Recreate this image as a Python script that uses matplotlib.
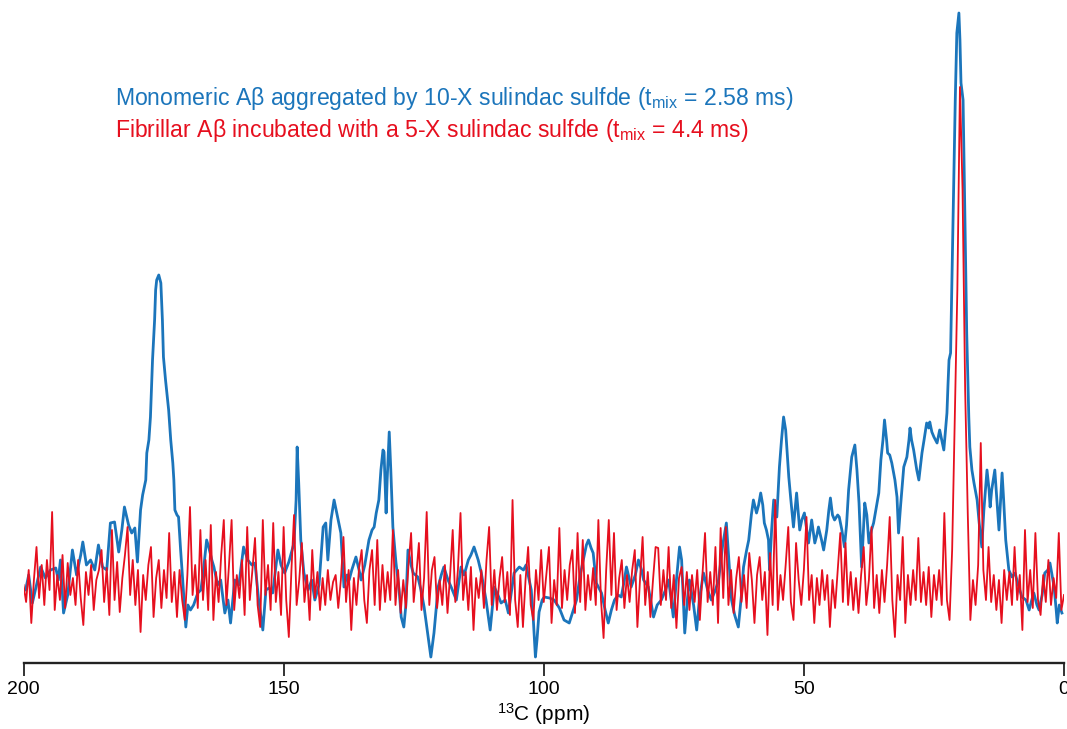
"""
13C 谱图：单体 Aβ 与纤维 Aβ 在 sulindac sulfide 作用下的对比
"""
import numpy as np
import matplotlib

matplotlib.use("Agg")
import matplotlib.pyplot as plt

plt.rcParams['font.family'] = ['Liberation Sans', 'DejaVu Sans']
plt.rcParams['mathtext.fontset'] = 'custom'
plt.rcParams['mathtext.rm'] = 'Liberation Sans'
plt.rcParams['mathtext.it'] = 'Liberation Sans:italic'

blue_color = '#1b75bb'
red_color = '#e60f1e'

# 单体 Aβ (t_mix = 2.58 ms)，化学位移 / 强度
blue_ppm = [
    199.6, 199.0, 198.3, 197.5, 196.7, 195.8, 194.8, 193.8, 193.3, 192.9,
    192.3, 191.5, 190.6, 189.8, 189.0, 188.6, 187.9, 187.1, 186.3, 185.6,
    184.8, 184.0, 183.3, 182.5, 181.7, 181.1, 180.6, 179.8, 179.2, 178.6,
    178.1, 177.5, 177.1, 176.9, 176.5, 176.3, 175.9, 175.6, 175.2, 174.8,
    174.6, 174.4, 174.0, 173.6, 173.3, 173.1, 172.7, 172.1, 171.7, 171.3,
    171.1, 170.9, 170.5, 170.2, 169.8, 169.4, 168.8, 168.4, 167.9, 167.3,
    166.5, 165.9, 165.4, 164.8, 164.4, 163.8, 163.4, 162.7, 162.1, 161.3,
    160.7, 160.2, 159.4, 158.6, 157.7, 156.9, 156.1, 155.5, 154.8, 154.0,
    153.4, 152.8, 152.1, 151.1, 150.5, 149.8, 149.0, 148.0, 147.6, 147.4,
    147.1, 146.7, 146.1, 145.3, 144.6, 144.0, 143.2, 142.4, 141.9, 141.5,
    140.9, 140.3, 139.9, 139.6, 139.0, 138.4, 137.8, 137.4, 136.9, 136.1,
    135.5, 135.1, 134.4, 133.6, 133.0, 132.6, 132.2, 131.9, 131.7, 131.3,
    130.9, 130.7, 130.3, 130.1, 129.7, 129.4, 129.0, 128.4, 127.8, 127.4,
    126.9, 126.5, 126.1, 125.5, 125.1, 124.2, 123.6, 123.0, 122.4, 121.7,
    121.1, 120.3, 119.7, 119.2, 118.4, 117.8, 116.8, 115.9, 115.3, 114.5,
    114.0, 113.4, 112.6, 112.0, 111.1, 110.3, 109.5, 108.8, 108.2, 107.4,
    106.8, 106.3, 105.7, 104.7, 103.9, 103.4, 102.8, 102.4, 102.0, 101.6,
    101.3, 100.9, 100.3, 99.9, 98.9, 98.0, 97.0, 96.1, 95.1, 94.3,
    93.7, 93.0, 92.4, 91.8, 91.4, 90.9, 90.5, 89.9, 88.9, 88.2,
    87.6, 87.0, 86.4, 85.7, 85.1, 84.5, 84.1, 83.5, 83.2, 82.4,
    81.8, 81.2, 80.8, 79.9, 79.3, 78.9, 78.2, 77.4, 76.6, 76.0,
    75.5, 75.1, 74.5, 73.9, 73.5, 72.9, 72.4, 72.0, 71.2, 70.6,
    70.1, 69.3, 68.5, 67.8, 67.0, 66.4, 65.6, 64.9, 64.3, 63.9,
    63.3, 62.6, 62.0, 61.6, 61.0, 60.6, 60.1, 59.7, 59.1, 58.7,
    58.3, 57.9, 57.6, 57.2, 56.8, 56.6, 56.2, 55.8, 55.2, 54.7,
    54.3, 53.9, 53.5, 52.9, 52.5, 52.0, 51.4, 50.8, 50.4, 49.9,
    49.1, 48.5, 47.9, 47.5, 47.2, 46.6, 46.2, 45.6, 45.2, 44.9,
    44.5, 44.1, 43.5, 43.2, 42.7, 42.2, 41.8, 41.4, 40.8, 40.2,
    39.8, 39.4, 38.9, 38.3, 37.9, 37.5, 37.0, 36.6, 36.0, 35.6,
    35.2, 34.8, 34.5, 34.1, 33.9, 33.5, 33.1, 32.5, 32.1, 31.8,
    31.4, 30.8, 30.2, 29.8, 29.6, 29.3, 28.9, 28.3, 27.9, 27.3,
    26.9, 26.4, 26.0, 25.8, 25.4, 25.0, 24.4, 23.9, 23.5, 23.1,
    22.5, 22.3, 22.1, 21.8, 21.5, 21.2, 20.9, 20.6, 20.2, 20.0,
    19.8, 19.4, 19.0, 18.7, 18.3, 18.1, 17.7, 17.3, 16.7, 16.3,
    15.8, 15.4, 14.8, 14.4, 14.2, 13.9, 13.3, 12.9, 12.5, 11.9,
    11.6, 11.2, 10.6, 10.0, 9.4, 8.8, 8.1, 7.3, 6.7, 6.2,
    5.8, 5.2, 4.8, 4.2, 3.7, 3.1, 2.7, 2.3, 1.9, 1.5,
    1.3, 0.9, 0.4,
]
blue_int = [
    0, 15, -13, 5, 23, 12, 20, 22, 10, 30,
    -23, -5, 40, 15, 35, 48, 25, 30, 20, 45,
    23, 20, 67, 68, 38, 60, 83, 65, 57, 62,
    28, 80, 95, 100, 110, 137, 150, 173, 230, 270,
    300, 310, 315, 307, 270, 233, 210, 180, 150, 127,
    110, 80, 75, 73, 40, 10, -37, -15, -20, -15,
    -3, 0, 20, 50, 43, 30, 23, 5, 10, -23,
    -10, -33, 10, 5, 43, 30, 25, 27, -10, -40,
    0, 2, -3, 40, 25, 17, 28, 47, 90, 143,
    107, 50, 17, 0, 10, -10, 5, 63, 67, 30,
    70, 90, 80, 73, 57, 3, 15, 10, 20, 33,
    20, 10, 25, 50, 60, 63, 77, 85, 90, 120,
    140, 138, 77, 110, 158, 120, 63, 27, 0, -27,
    -37, -15, 40, 25, 17, 13, 0, -17, -40, -67,
    -43, 3, 15, 23, 10, 3, -10, 23, 15, 30,
    35, 43, 30, 17, -10, -40, 3, -5, -13, -10,
    -23, -5, 17, 23, 20, 25, 10, 0, -30, -67,
    -50, -22, -10, -7, -8, -10, -18, -30, -33, -20,
    -10, 15, 30, 45, 50, 42, 37, 7, -3, -20,
    -33, -20, -10, -5, -7, 10, 23, 10, 3, 15,
    30, 20, 10, 3, -15, -27, -15, -10, 0, 10,
    -10, -27, 10, 43, 30, -43, -10, 10, -15, -40,
    -10, 17, 0, -10, 0, 10, 45, 67, 20, -10,
    -25, -37, -5, 23, 40, 50, 75, 90, 77, 85,
    97, 85, 67, 60, 50, 20, 60, 90, 73, 123,
    150, 173, 160, 113, 90, 63, 97, 60, 70, 77,
    47, 70, 47, 55, 63, 50, 40, 60, 80, 92,
    75, 70, 75, 73, 60, 43, 65, 100, 133, 145,
    120, 87, 23, 87, 75, 47, 60, 67, 85, 97,
    130, 150, 170, 150, 137, 135, 127, 110, 93, 57,
    85, 123, 133, 150, 162, 150, 140, 120, 110, 137,
    150, 167, 162, 168, 158, 153, 147, 160, 150, 140,
    177, 205, 230, 237, 323, 410, 490, 557, 577, 550,
    507, 490, 357, 257, 173, 143, 120, 107, 90, 67,
    43, 80, 120, 100, 83, 100, 120, 90, 60, 117,
    90, 50, 20, 13, 17, 5, -7, -10, -20, -10,
    -3, -15, -20, -5, 17, 20, 27, 15, 3, -20,
    -33, -15, -23,
]

# 纤维 Aβ (t_mix = 4.4 ms)，200 → 0 ppm，每 0.5 ppm 一个点
red_int = [
    5, -12, 20, -33, 10, 43, -8, 25, -15, 30, 0, 78, -20, 15, -10, 35, -18, 27, -5, 12,
    -15, 30, -8, -35, 18, -5, 25, -20, 10, 20, 40, -12, 22, -25, 60, -10, 28, -22, 12, 35,
    63, -5, 30, -15, 20, -42, 15, -10, 25, 43, -27, 12, 30, -18, 20, -8, 57, -12, 18, -27,
    20, -10, -30, 15, 83, -5, 25, -18, 60, -10, 30, -20, 65, -30, 18, -12, 35, 70, -15, 25,
    70, -20, 15, -8, 30, -25, 63, -10, 20, 52, -15, -37, 70, -5, 25, -20, 67, -12, 18, -25,
    63, -10, -47, 20, 75, -15, 10, 47, -12, 15, -30, 40, -8, 18, -20, 12, -15, 20, -10, 8,
    15, -18, 10, 53, -12, 20, -40, 12, -15, 22, 40, -10, -33, 20, 40, -15, 50, -20, 25, -12,
    18, -10, 60, -15, 20, -23, 10, -18, 25, 57, -12, 15, 47, -20, 12, 78, -15, 20, 33, -18,
    10, -15, 25, -23, 15, 60, -12, 20, 77, -10, 18, -20, 23, -40, 12, -8, 20, -18, 30, 63,
    -15, 20, -20, 12, 33, -12, 18, -25, 90, -10, -37, 15, -37, 10, 43, -15, -30, 20, -10, 40,
    -12, 15, 43, -33, 10, -15, 62, -18, 20, -10, 25, 40, -23, 57, -12, 50, -20, 15, -10, 22,
    -15, 70, -10, -48, 20, 70, -5, 57, -20, 12, 30, -18, 15, -12, 20, 40, -37, 10, 53, -15,
    18, -27, 10, 43, 42, -15, 20, -10, 43, -18, 15, -38, 12, 23, -15, 18, -20, 15, -12, 20,
    -30, 15, 57, -12, 18, -15, 43, -33, 62, -8, 63, -15, 20, -23, 12, 33, -12, 15, -18, 37,
    10, -33, 15, 33, -10, 18, -45, 37, -15, 90, -20, 15, -10, 25, 63, -12, -30, 47, 10, -15,
    20, 73, -10, 15, -33, 12, -15, 20, -10, 15, -37, 10, -18, 20, 57, -12, 47, -15, 18, -20,
    12, -23, 15, 43, -15, 10, 63, -18, 15, -23, 20, -12, 25, 73, -10, -47, 15, -10, 53, -33,
    15, -15, 20, -10, 52, -12, 18, -15, 23, -27, 15, -10, 20, -15, 77, -10, -30, 40, 170, 300,
    503, 400, 200, 77, -30, 10, -15, 25, 147, 20, -10, 43, -12, 15, -20, 10, -33, 20, -10, 18,
    -15, 43, -10, 15, -40, 60, -12, 20, -18, 57, -10, -25, 15, -12, 30, -15, 12, -8, 57, -20,
    -5,
]
red_ppm = np.linspace(200, 0, len(red_int))

label_blue = 'Monomeric Aβ aggregated by 10-X sulindac sulfde (t$_{\\mathrm{mix}}$ = 2.58 ms)'
label_red = 'Fibrillar Aβ incubated with a 5-X sulindac sulfde (t$_{\\mathrm{mix}}$ = 4.4 ms)'

fig = plt.figure(figsize=(10.67, 7.29), dpi=100)
ax = fig.add_axes([23.5 / 1067, 66 / 729, 1040.5 / 1067, 663 / 729])

ax.plot(blue_ppm, blue_int, color=blue_color, lw=2.0, solid_joinstyle='round')
ax.plot(red_ppm, red_int, color=red_color, lw=1.3, solid_joinstyle='round')

ax.set_xlim(200, 0)
ax.set_ylim(-73, 590)
ax.set_xticks([200, 150, 100, 50, 0])

# 只保留底部坐标轴
for side in ['left', 'right', 'top']:
    ax.spines[side].set_visible(False)
ax.spines['bottom'].set_linewidth(1.7)
ax.spines['bottom'].set_color('#222222')
ax.set_yticks([])
ax.tick_params(axis='x', direction='out', length=9, width=1.3, color='#222222',
               labelsize=14, pad=4)
ax.set_xlabel(r'$^{13}$C (ppm)', fontsize=15, labelpad=2)

fig.text(115 / 1067, 1 - 105 / 729, label_blue, color=blue_color, fontsize=16.6, va='baseline')
fig.text(115 / 1067, 1 - 137 / 729, label_red, color=red_color, fontsize=16.6, va='baseline')

plt.savefig('out.png', dpi=100)
